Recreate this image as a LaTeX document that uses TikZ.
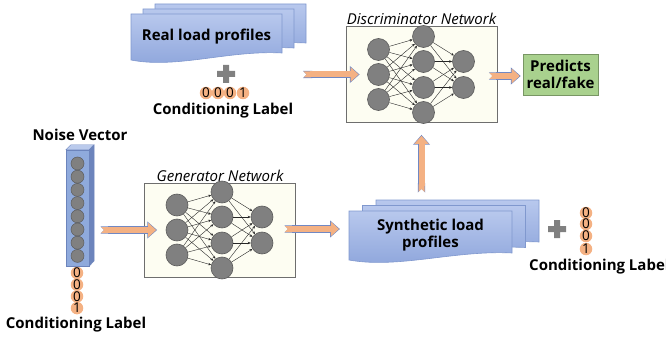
\documentclass[tikz,border=0pt]{standalone}
\usepackage{fontspec}
\setmainfont{Open Sans}
\usetikzlibrary{arrows.meta, positioning, calc}
\definecolor{ArrowOrange}{RGB}{244,177,131}
\definecolor{ArrowEdge}{RGB}{112,136,196}
\definecolor{PageTop}{RGB}{184,200,237}
\definecolor{PageBottom}{RGB}{140,164,219}
\definecolor{PageEdge}{RGB}{128,152,206}
\definecolor{CellGray}{RGB}{128,128,128}
\definecolor{CellEdge}{RGB}{92,92,92}
\definecolor{NetCream}{RGB}{253,253,242}
\definecolor{NetEdge}{RGB}{110,110,110}
\definecolor{PredictGreen}{RGB}{169,209,142}
\definecolor{PredictEdge}{RGB}{120,150,100}
\definecolor{BarFront}{RGB}{143,170,220}
\definecolor{BarTop}{RGB}{186,202,236}
\definecolor{BarSide}{RGB}{108,132,188}

% three stacked pages with a wavy bottom: corner, width, height, dx, dy
\newcommand{\loadpages}[5]{%
  \foreach \k in {2,1,0}
    \draw[page] ([shift={(#4*\k,#5*\k)}]#1) -- ++(#2,0) -- ++(0,#3-7)
      .. controls +(-0.35*#2,-3) and +(0.3*#2,9) .. ++(-#2,7) -- cycle;}

\begin{document}
\begin{tikzpicture}[
    x=1pt, y=-1pt,
    page/.style={top color=PageTop, bottom color=PageBottom, draw=PageEdge, line width=0.6pt},
    doctext/.style={align=center, inner sep=0pt, font=\fontsize{15}{17.5}\selectfont\bfseries},
    boldlabel/.style={inner sep=0pt, font=\fontsize{15}{17.5}\selectfont\bfseries},
    nettitle/.style={inner sep=1pt, font=\fontsize{15}{17}\selectfont\itshape},
    netbox/.style={rectangle, draw=NetEdge, fill=NetCream, line width=0.8pt, minimum width=151pt, minimum height=96pt},
    neuron/.style={circle, fill=CellGray, draw=CellEdge, line width=0.6pt, minimum size=22pt, inner sep=0pt},
    synapse/.style={line width=0.4pt, black!85, -{Stealth[length=3pt, width=2.5pt]}},
    cell/.style={circle, fill=CellGray, draw=CellEdge, line width=0.5pt, minimum size=13pt, inner sep=0pt},
    bit/.style={circle, fill=ArrowOrange, inner sep=-0.5pt, minimum size=12.5pt, font=\fontsize{13.5}{13.5}\selectfont},
    plussign/.style={minimum size=18pt, inner sep=0pt, path picture={
        \fill[CellGray] ([shift={(-9,-3)}]path picture bounding box.center) rectangle ++(18,6)
                        ([shift={(-3,-9)}]path picture bounding box.center) rectangle ++(6,18);}},
    predict/.style={rectangle, draw=PredictEdge, fill=PredictGreen, line width=0.6pt, minimum width=75pt, minimum height=41pt, align=center, inner sep=2pt, font=\fontsize{15}{16.5}\selectfont\bfseries},
    fatarrow/.style={line width=6pt, draw=ArrowOrange,
        {Triangle Cap[reversed]}-{Triangle[length=8pt, width=14pt]},
        preaction={draw=ArrowEdge, line width=7.4pt, shorten >=-1pt, shorten <=-0.6pt,
        {Triangle Cap[reversed]}-{Triangle[length=9.8pt, width=16.4pt]}}}
  ]
  \useasboundingbox (0,0) rectangle (666,339);

  % real data
  \coordinate (realcorner) at (131,14);
  \loadpages{realcorner}{151}{46}{12}{-5}
  \node[doctext] (realdoc) at ([shift={(75.5,23)}]realcorner) {Real load profiles};
  \node[plussign] (realplus) at (226,74) {};
  \foreach \d/\x [count=\i] in {0/206,0/218,0/230,1/243}
    \node[bit] (realbit\i) at (\x,93) {\d};
  \node[boldlabel] (reallabel) at (223,111) {Conditioning Label};

  % discriminator
  \node[netbox] (disc) at (421.5,74.5) {};
  \node[nettitle, above=0pt of disc] (disctitle) {Discriminator Network};
  \node[predict] (pred) at (560.5,74.5) {Predicts\\real/fake};

  % noise input
  \node[rectangle, fill=BarFront, draw=BarSide, line width=0.4pt, minimum width=23pt, minimum height=116pt, inner sep=0pt] (noise) at (77.5,208) {};
  \filldraw[fill=BarTop, draw=BarSide, line width=0.4pt] (noise.north west) -- ++(5,-5) -- ++(23,0) -- (noise.north east) -- cycle;
  \filldraw[fill=BarSide, draw=BarSide, line width=0.4pt] (noise.north east) -- ++(5,-5) -- ++(0,116) -- (noise.south east) -- cycle;
  \foreach \k in {0,...,7}
    \node[cell] (cell\k) at (77.5,163.5+13.2*\k) {};
  \node[boldlabel] (noiselabel) at (80,135) {Noise Vector};
  \foreach \d [count=\i] in {0,0,0,1}
    \node[bit] (noisebit\i) at (77,261.3+11.7*\i) {\d};
  \node[boldlabel] (noiselab) at (76,325) {Conditioning Label};

  % generator
  \node[netbox, minimum height=94pt] (gen) at (220,230) {};
  \node[nettitle, above=0pt of gen] (gentitle) {Generator Network};

  % both networks
  \foreach \net in {disc,gen}{
    \foreach \dy [count=\i] in {-25,0,25}
      \node[neuron] (\net a\i) at ([shift={(-43,\dy)}]\net.center) {};
    \foreach \dy [count=\i] in {-38,-13,13,38}
      \node[neuron] (\net b\i) at ([shift={(2,\dy)}]\net.center) {};
    \foreach \dy [count=\i] in {-13,13}
      \node[neuron] (\net c\i) at ([shift={(42,\dy)}]\net.center) {};
    \foreach \i in {1,2,3}
      \foreach \j in {1,...,4}
        \draw[synapse] (\net a\i) -- (\net b\j);
    \foreach \j in {1,...,4}
      \foreach \k in {1,2}
        \draw[synapse] (\net b\j) -- (\net c\k);
  }

  % synthetic data
  \coordinate (fakecorner) at (349,211);
  \loadpages{fakecorner}{163}{49}{13.5}{-5.5}
  \node[doctext] (fakedoc) at ([shift={(81.5,24)}]fakecorner) {Synthetic load\\profiles};
  \node[plussign] (fakeplus) at (557,229) {};
  \foreach \d/\y [count=\i] in {0/213,0/224,0/236,1/249}
    \node[bit] (fakebit\i) at (586,\y) {\d};
  \node[boldlabel, anchor=west] (fakelabel) at (529,267) {Conditioning Label};

  % flow
  \draw[fatarrow] ([xshift=-42pt]disc.west) -- ([xshift=13pt]disc.west);
  \draw[fatarrow] ([xshift=-8pt,yshift=-1.5pt]disc.east) -- ([xshift=-3pt,yshift=-1.5pt]pred.west);
  \draw[fatarrow] ([yshift=-69pt]disc.south) -- ([yshift=-13pt]disc.south);
  \draw[fatarrow] ([xshift=-43pt]gen.west) -- ([xshift=12pt]gen.west);
  \draw[fatarrow] ([xshift=-11pt,yshift=1pt]gen.east) -- ([xshift=43pt,yshift=1pt]gen.east);
\end{tikzpicture}
\end{document}
